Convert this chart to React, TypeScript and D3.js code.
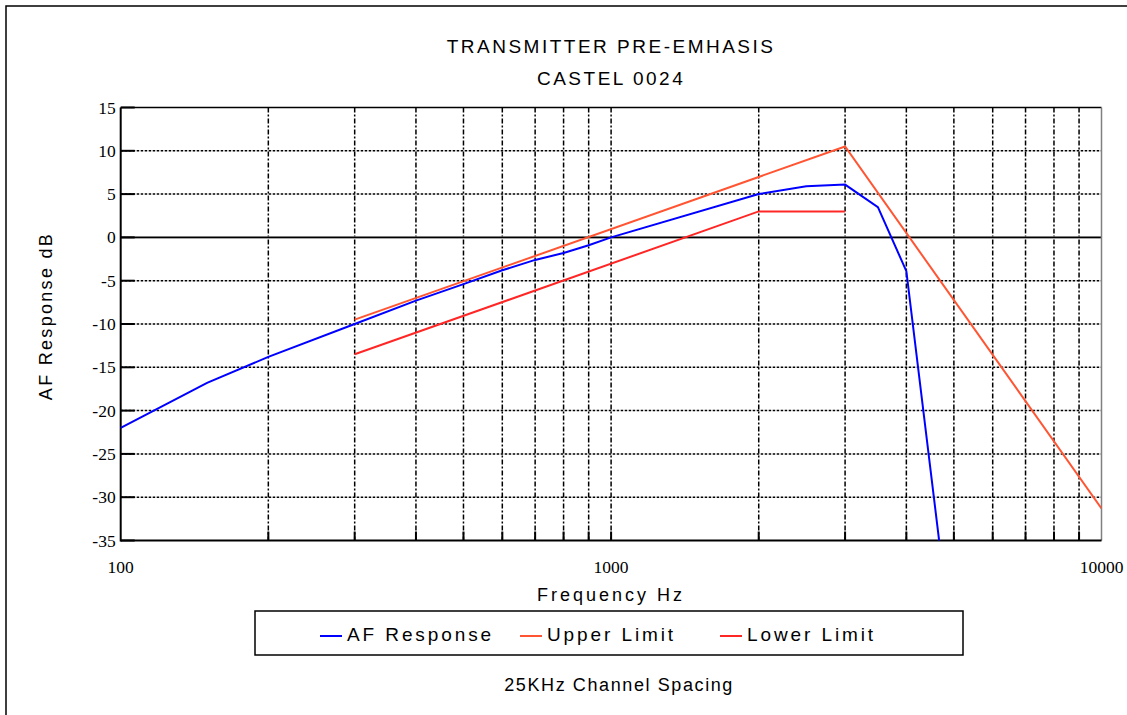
import React from "react";
import * as d3 from "d3";

const afFreq = [100, 150, 200, 300, 400, 500, 600, 700, 800, 900, 1000, 2000, 2500, 3000, 3500, 4000, 5000];
const afResp = [-22, -16.8, -13.8, -10, -7.3, -5.4, -3.8, -2.6, -1.8, -0.9, 0, 5, 5.9, 6.1, 3.5, -3.9, -49];
const upperFreq = [300, 3000, 10000];
const upperVal = [-9.5, 10.5, -31.3];
const lowerFreq = [300, 2000, 3000];
const lowerVal = [-13.5, 3, 3];
const yTicks = [15, 10, 5, 0, -5, -10, -15, -20, -25, -30, -35];
const xLabels = [100, 1000, 10000];
const minorFreqs = [200, 300, 400, 500, 600, 700, 800, 900, 1000, 2000, 3000, 4000, 5000, 6000, 7000, 8000, 9000];
const seriesNames = ["AF Response", "Upper Limit", "Lower Limit"];
const seriesColors = ["#0000ff", "#ff5533", "#ff2626"];

const W = 1127, H = 715;
const PL = 120.7, PR = 1101.5, PT = 107.5, PB = 540.5;

export default function App() {
  const x = d3.scaleLog().domain([100, 10000]).range([PL, PR]);
  const y = d3.scaleLinear().domain([-35, 15]).range([PB, PT]);
  const line = d3.line<[number, number]>().x(d => x(d[0])).y(d => y(d[1]));
  const mk = (fs: number[], vs: number[]) => line(fs.map((f, i) => [f, vs[i]]))!;
  const series = [mk(afFreq, afResp), mk(upperFreq, upperVal), mk(lowerFreq, lowerVal)];
  const sans = "Arial, 'Liberation Sans', sans-serif";
  const serif = "'Times New Roman', 'Liberation Serif', serif";
  const legendX = [320, 520, 720];
  const cx = (PL + PR) / 2;
  return (
    <svg width={W} height={H} style={{ position: "absolute", left: 0, top: 0, background: "#fff" }}>
      <defs>
        <clipPath id="plotclip"><rect x={PL} y={PT} width={PR - PL} height={PB - PT} /></clipPath>
      </defs>
      <rect x={0} y={0} width={W} height={H} fill="#fff" />
      <rect x={6} y={6} width={W + 20} height={H + 20} fill="none" stroke="#000" strokeWidth={1.5} />
      <text x={cx} y={53} textAnchor="middle" fontFamily={sans} fontSize={19} letterSpacing={2.5}>TRANSMITTER PRE-EMHASIS</text>
      <text x={cx} y={85} textAnchor="middle" fontFamily={sans} fontSize={19} letterSpacing={2.5}>CASTEL 0024</text>
      {yTicks.filter(v => v !== 15 && v !== -35 && v !== 0).map(v => (
        <line key={"h" + v} x1={PL} x2={PR} y1={y(v)} y2={y(v)} stroke="#000" strokeWidth={1.5} strokeDasharray="2.5,1.5" />
      ))}
      {minorFreqs.map(f => (
        <line key={"v" + f} x1={x(f)} x2={x(f)} y1={PT} y2={PB} stroke="#000" strokeWidth={1.5} strokeDasharray="5,2,2,2" />
      ))}
      <line x1={PL} x2={PR} y1={y(0)} y2={y(0)} stroke="#888" strokeWidth={2.5} />
      <line x1={PL} x2={PR} y1={y(0)} y2={y(0)} stroke="#000" strokeWidth={1.2} />
      <line x1={PL} x2={PR} y1={PT} y2={PT} stroke="#000" strokeWidth={1.5} />
      <line x1={PR} x2={PR} y1={PT} y2={PB} stroke="#808080" strokeWidth={1.5} />
      <line x1={PL} x2={PL} y1={PT} y2={PB + 1} stroke="#000" strokeWidth={2} />
      <line x1={PL} x2={PR} y1={PB} y2={PB} stroke="#000" strokeWidth={2} />
      {yTicks.map(v => (
        <line key={"yt" + v} x1={PL} x2={PL + 14} y1={y(v)} y2={y(v)} stroke="#000" strokeWidth={2} />
      ))}
      {minorFreqs.map(f => (
        <line key={"xt" + f} x1={x(f)} x2={x(f)} y1={PB} y2={PB - 9} stroke="#000" strokeWidth={2} />
      ))}
      <g clipPath="url(#plotclip)">
        {series.map((d, i) => (
          <path key={"s" + i} d={d} fill="none" stroke={seriesColors[i]} strokeWidth={2} />
        ))}
      </g>
      {yTicks.map(v => (
        <text key={"yl" + v} x={PL - 5} y={y(v) + 6} textAnchor="end" fontFamily={serif} fontSize={17.5}>{v}</text>
      ))}
      {xLabels.map(f => (
        <text key={"xl" + f} x={x(f)} y={573} textAnchor="middle" fontFamily={serif} fontSize={17.5}>{f}</text>
      ))}
      <text transform={`translate(52,316) rotate(-90)`} textAnchor="middle" fontFamily={sans} fontSize={18} letterSpacing={2.3}>AF Response dB</text>
      <text x={cx} y={601} textAnchor="middle" fontFamily={sans} fontSize={18} letterSpacing={3}>Frequency Hz</text>
      <rect x={255} y={611} width={708} height={44} fill="#fff" stroke="#000" strokeWidth={1.5} />
      {seriesNames.map((n, i) => (
        <g key={"lg" + i}>
          <line x1={legendX[i]} x2={legendX[i] + 22} y1={636} y2={636} stroke={seriesColors[i]} strokeWidth={2} />
          <text x={legendX[i] + 27} y={641} fontFamily={sans} fontSize={19} letterSpacing={2.9}>{n}</text>
        </g>
      ))}
      <text x={cx + 8} y={691} textAnchor="middle" fontFamily={sans} fontSize={18} letterSpacing={1.6}>25KHz Channel Spacing</text>
    </svg>
  );
}
